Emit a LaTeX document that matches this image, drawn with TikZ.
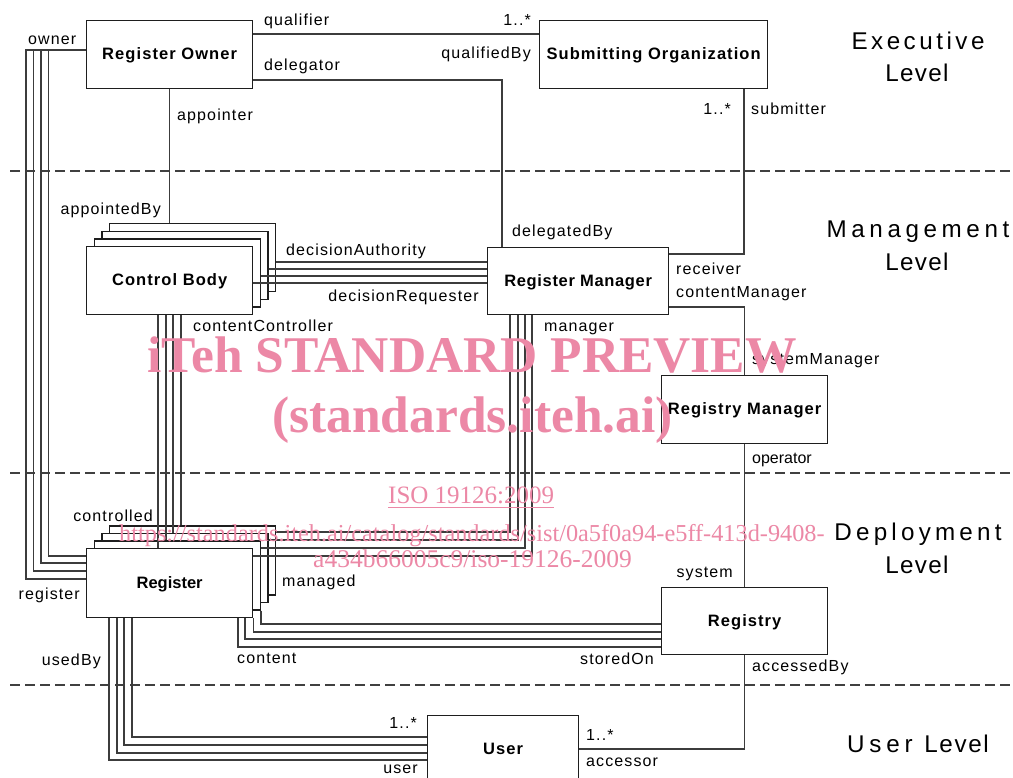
\documentclass[tikz,border=0pt]{standalone}
\usepackage{fontspec}
\setmainfont{Liberation Sans}
\newfontfamily\wmfont{Liberation Serif}
\usetikzlibrary{calc}
\definecolor{wmpink}{RGB}{236,136,166}
\definecolor{lncol}{RGB}{60,60,60}
\definecolor{boxcol}{RGB}{30,30,30}
\begin{document}
\begin{tikzpicture}[x=1pt,y=-1pt,
  box/.style={draw=boxcol, line width=1.3pt, fill=white, inner sep=0pt, anchor=north west,
    minimum width=166pt, minimum height=68pt,
    font=\fontsize{16.5}{18}\selectfont\bfseries\addfontfeature{LetterSpace=6.5},
    text height=12pt, text depth=2pt},
  conn/.style={draw=lncol, line width=1.2pt},
  lbl/.style={inner sep=0pt, font=\fontsize{16}{18}\selectfont\addfontfeature{LetterSpace=7}},
  lvl/.style={inner sep=0pt, anchor=base, font=\fontsize{24.2}{28}\selectfont},
  sepline/.style={draw=black!75, line width=1.5pt, dash pattern=on 10pt off 5pt},
  wm/.style={inner sep=0pt, anchor=base west, text=wmpink, font=\wmfont\fontsize{25}{28}\selectfont},
  wmbig/.style={inner sep=0pt, anchor=base west, text=wmpink, font=\wmfont\fontsize{51.5}{56}\selectfont\bfseries},
]
\useasboundingbox (0,0) rectangle (1013,778);
\clip (0,0) rectangle (1013,778);
\fill[white] (0,0) rectangle (1013,778);

% level separators
\draw[sepline] (10,171) -- (1013,171);
\draw[sepline] (10,473) -- (1013,473);
\draw[sepline] (10,685) -- (1013,685);

% level labels
\node[lvl] (lv1a) at (918,50) {\addfontfeature{LetterSpace=14.5}Executive};
\node[lvl] (lv1b) at (917,82) {\addfontfeature{LetterSpace=5.5}Level};
\node[lvl] (lv2a) at (918,238) {\addfontfeature{LetterSpace=19}Management};
\node[lvl] (lv2b) at (917,271) {\addfontfeature{LetterSpace=5.5}Level};
\node[lvl] (lv3a) at (918,540) {\addfontfeature{LetterSpace=17.5}Deployment};
\node[lvl] (lv3b) at (917,573) {\addfontfeature{LetterSpace=5.5}Level};
\node[lvl] (lv4) at (918,752) {\addfontfeature{LetterSpace=20}User {\addfontfeature{LetterSpace=7}Level}};

% boxes
\node[box] (ro) at (86,20) {Register Owner};
\node[box, minimum width=228pt] (so) at (539,20) {Submitting Organization};
\node[box] (cb3) at (108.8,223.2) {};
\node[box] (cb2) at (101.2,230.8) {};
\node[box] (cb1) at (93.6,238.4) {};
\node[box] (cb) at (86,246) {Control Body};
\node[box, minimum width=181pt, minimum height=67pt] (rm) at (487,247) {\addfontfeature{LetterSpace=4}Register Manager};
\node[box] (rgm) at (661,375) {Registry Manager};
\node[box, minimum height=69pt] (reg3) at (108.8,525.2) {};
\node[box, minimum height=69pt] (reg2) at (101.2,532.8) {};
\node[box, minimum height=69pt] (reg1) at (93.6,540.4) {};
\node[box, minimum height=69pt] (reg) at (86,548) {\addfontfeature{LetterSpace=0}Register};
\node[box, minimum height=67pt] (ry) at (661,587) {Registry};
\node[box, minimum width=151pt] (user) at (427,715) {User};

% connectors
\draw[conn] (ro.east |- 0,34) -- (so.west |- 0,34);
\draw[conn] (ro.east |- 0,80) -| (rm.north -| 502,0);
\draw[conn] (ro.south) -- (cb3.north -| ro.south);
\draw[conn] (so.south -| 744,0) |- (rm.east |- 0,254);
\draw[conn] (rm.east |- 0,307) -| (rgm.north);
\draw[conn] (rgm.south) -- (ry.north);
\draw[conn] (ry.south) |- (user.east |- 0,749);
% control body - register manager
\draw[conn] (cb3.east |- 0,262) -- (rm.west |- 0,262);
\draw[conn] (cb2.east |- 0,269) -- (rm.west |- 0,269);
\draw[conn] (cb1.east |- 0,276) -- (rm.west |- 0,276);
\draw[conn] (cb.east |- 0,283) -- (rm.west |- 0,283);
% control body - register
\draw[conn] (cb.south -| 158,0) -- (reg.north -| 158,0);
\draw[conn] (cb.south -| 166,0) -- (reg1.north -| 166,0);
\draw[conn] (cb.south -| 173,0) -- (reg2.north -| 173,0);
\draw[conn] (cb.south -| 181,0) -- (reg3.north -| 181,0);
% register manager - register
\draw[conn] (rm.south -| 510,0) |- (reg3.east |- 0,532);
\draw[conn] (rm.south -| 518,0) |- (reg2.east |- 0,540);
\draw[conn] (rm.south -| 525,0) |- (reg1.east |- 0,548);
\draw[conn] (rm.south -| 532,0) |- (reg.east |- 0,556);
% register owner - register
\draw[conn] (ro.west |- 0,50) -| (26,579) -- (reg.west |- 0,579);
\draw[conn] (ro.west |- 0,50) -| (33.5,571) -- (reg.west |- 0,571);
\draw[conn] (ro.west |- 0,50) -| (41,563) -- (reg.west |- 0,563);
\draw[conn] (ro.west |- 0,50) -| (48.5,556) -- (reg.west |- 0,556);
% register - registry
\draw[conn] (reg1.south east) |- (ry.west |- 0,624);
\draw[conn] (reg.south east) |- (ry.west |- 0,632);
\draw[conn] (reg.south -| 245,0) |- (ry.west |- 0,639);
\draw[conn] (reg.south -| 238,0) |- (ry.west |- 0,647);
% register - user
\draw[conn] (reg.south -| 109,0) |- (user.west |- 0,760);
\draw[conn] (reg.south -| 117,0) |- (user.west |- 0,753);
\draw[conn] (reg.south -| 124,0) |- (user.west |- 0,745);
\draw[conn] (reg.south -| 132,0) |- (user.west |- 0,737);

% role labels
\node[lbl, anchor=base west] (t1) at (264,26) {qualifier};
\node[lbl, anchor=base east] (t2) at (531,26) {1..*};
\node[lbl, anchor=base east] (t3) at (531,59) {qualifiedBy};
\node[lbl, anchor=base west] (t4) at (264,71) {delegator};
\node[lbl, anchor=base west] (t5) at (28,45) {owner};
\node[lbl, anchor=base west] (t6) at (177,121) {appointer};
\node[lbl, anchor=base east] (t7) at (161,215) {appointedBy};
\node[lbl, anchor=base west] (t8) at (512,237) {delegatedBy};
\node[lbl, anchor=base east] (t9) at (731,115) {1..*};
\node[lbl, anchor=base west] (t10) at (751,115) {submitter};
\node[lbl, anchor=base west] (t11) at (676,275) {receiver};
\node[lbl, anchor=base west] (t12) at (676,298) {contentManager};
\node[lbl, anchor=base west] (t13) at (286,256) {decisionAuthority};
\node[lbl, anchor=base east] (t14) at (479,302) {decisionRequester};
\node[lbl, anchor=base west] (t15) at (193,332) {contentController};
\node[lbl, anchor=base west] (t16) at (544,332) {manager};
\node[lbl, anchor=base west] (t17) at (752,365) {systemManager};
\node[lbl, anchor=base west] (t18) at (752,463) {\addfontfeature{LetterSpace=0}operator};
\node[lbl, anchor=base east] (t19) at (733,577) {system};
\node[lbl, anchor=base east] (t20) at (153,521) {controlled};
\node[lbl, anchor=base east] (t21) at (80,599) {register};
\node[lbl, anchor=base west] (t22) at (282,586) {managed};
\node[lbl, anchor=base east] (t23) at (101,665) {usedBy};
\node[lbl, anchor=base west] (t24) at (237,663) {content};
\node[lbl, anchor=base east] (t25) at (654,664) {storedOn};
\node[lbl, anchor=base west] (t26) at (752,671) {accessedBy};
\node[lbl, anchor=base east] (t27) at (417,728) {1..*};
\node[lbl, anchor=base east] (t28) at (418,773) {user};
\node[lbl, anchor=base west] (t29) at (586,740) {1..*};
\node[lbl, anchor=base west] (t30) at (586,766) {accessor};

% watermark
\node[wmbig] (w1) at (147,373) {iTeh STANDARD PREVIEW};
\node[wmbig] (w2) at (272,432) {(standards.iteh.ai)};
\node[wm] (w3) at (388,503) {ISO 19126:2009};
\draw[wmpink, line width=1pt] (w3.base west) ++(0,4) -- ($(w3.base east)+(0,4)$);
\node[wm, font=\wmfont\fontsize{24.3}{28}\selectfont] (w4) at (119,541) {https://standards.iteh.ai/catalog/standards/sist/0a5f0a94-e5ff-413d-9408-};
\node[wm, font=\wmfont\fontsize{25.5}{28}\selectfont] (w5) at (313,567) {a434b66005c9/iso-19126-2009};
\end{tikzpicture}
\end{document}
